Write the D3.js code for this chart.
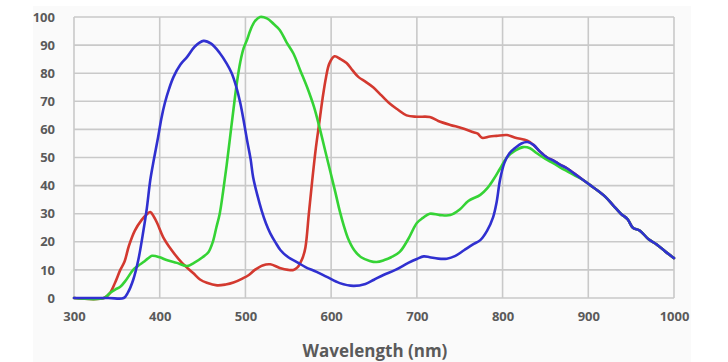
<!DOCTYPE html>
<html>
<head>
<meta charset="utf-8">
<script src="https://cdn.jsdelivr.net/npm/d3@7"></script>
<style>
  html, body { margin: 0; padding: 0; background: #ffffff; }
  svg { display: block; }
</style>
</head>
<body>
<svg id="chart" width="728" height="362"></svg>
<script>
// ---- Data ----
const xTicks = [300, 400, 500, 600, 700, 800, 900, 1000];
const yTicks = [0, 10, 20, 30, 40, 50, 60, 70, 80, 90, 100];
const xTitle = "Wavelength (nm)";

const redNm  = [300,335,342,348,354,359,364,371,379,385,389,393,397,404,414,426,439,447,455,467,477,486,497,504,511,520,529,540,550,556,561,564,567,570,574,578,582,586,590,594,598,604,611,618,625,632,640,649,659,669,678,688,700,715,725,739,752,766,771,776,785,793,805,815,829,836,844,852,859,867,876,885,894,903,912,920,929,938,946,952,960,970,980,990,1000];
const redVal = [0,0,1.8,5.5,10,13,18.5,24,27.8,29.8,30.6,29,26.7,21.7,17,12.5,8.9,6.6,5.4,4.5,4.8,5.5,7,8.2,10,11.6,12,10.7,10,10,11,12.5,14.5,18,30,42,53,62,71,78.5,83.5,86,85,83.6,81,78.6,77,75,72,69,67,65,64.5,64.4,63,61.6,60.5,59,58.5,57,57.5,57.7,58,57,56,54.5,52,50,49,47.5,46,44,42,40,38,36,33,30,28,25,24,21,19,16.5,14.2];

const greenNm  = [300,335,342,348,354,361,369,375,381,386,391,400,408,420,432,440,450,457,462,466,470,474,478,482,486,490,494,498,502,506,511,517,525,533,540,548,556,564,572,580,587,593,599,605,610,615,620,627,635,645,653,662,670,680,690,700,707,715,727,739,750,760,774,782,789,797,805,815,824,832,840,850,859,867,876,885,894,903,912,920,929,938,946,952,960,970,980,990,1000];
const greenVal = [0,0,1.8,3,4,6.5,10,11.5,12.8,14,15,14.5,13.5,12.5,11.4,12.5,14.5,16.4,20,25,30,38,47,57,67,76.5,84,89,92,95.5,98.5,100,99.5,97.5,95.4,91,87,81,75,68,60,52.5,45,37.5,31,25.5,21,17,14.5,13.2,12.8,13.5,14.5,16.4,21,26.7,28.5,30,29.5,29.5,31.5,34.5,36.7,39,42,46,50,52.5,53.7,53.3,51.5,49.5,48,46.5,45,43.5,42,40,38,36,33,30,28,25,24,21,19,16.5,14.2];

const blueNm  = [300,340,358,363,369,375,381,385,389,393,398,402,406,411,416,424,432,441,451,460,470,478,484,489,494,498,502,506,509,514,519,524,529,535,541,550,560,570,583,595,610,626,640,650,661,675,690,700,708,715,725,735,745,755,765,774,782,789,793,797,802,808,815,822,829,836,844,852,859,867,876,885,894,903,912,920,929,938,946,952,960,970,980,990,1000];
const blueVal = [0,0,0,2,6.4,13.5,24,32,42,49,57,64,69.4,74.5,78.6,83,85.8,89.5,91.5,90.5,87.2,83.5,80,75.5,69.4,63,56,49.5,43,36.5,31,26.5,23,19.8,17,14.5,12.8,11,9.3,7.5,5.3,4.3,5,6.5,8.2,10,12.5,13.9,14.8,14.5,14,14,15,17,19,20.6,24,28.8,34,42,48,51.5,53.5,55,55.5,54.5,52,50,49,47.5,46,44,42,40,38,36,33,30,28,25,24,21,19,16.5,14.2];

const series = [
  { name: "R", nm: redNm,   val: redVal,   color: "#d3392f" },
  { name: "G", nm: greenNm, val: greenVal, color: "#35d335" },
  { name: "B", nm: blueNm,  val: blueVal,  color: "#3030d0" }
];

// ---- Layout ----
const svg = d3.select("#chart");

svg.append("rect").attr("x", 33).attr("y", 6).attr("width", 658).attr("height", 356).attr("fill", "#fafafa");

const x = d3.scaleLinear().domain([300, 1000]).range([74, 674]);
const y = d3.scaleLinear().domain([0, 100]).range([298, 17]);

const grid = svg.append("g");
grid.selectAll("line.h").data(yTicks).enter().append("line")
  .attr("x1", x(300)).attr("x2", x(1000))
  .attr("y1", d => y(d)).attr("y2", d => y(d))
  .attr("stroke", "#c9c9c9").attr("stroke-width", 1.6);
grid.selectAll("line.v").data(xTicks).enter().append("line")
  .attr("x1", d => x(d)).attr("x2", d => x(d))
  .attr("y1", y(0)).attr("y2", y(100))
  .attr("stroke", "#c9c9c9").attr("stroke-width", 1.6);

const font = "'Open Sans', 'DejaVu Sans', sans-serif";
const yAxis = d3.axisLeft(y).tickValues(yTicks).tickFormat(d3.format("d")).tickSize(0).tickPadding(19);
const gy = svg.append("g").attr("transform", `translate(${x(300)},0)`).call(yAxis);
gy.select(".domain").remove();
gy.selectAll("text").attr("font-family", font)
  .attr("font-size", 13).attr("font-weight", "bold").attr("fill", "#5a5a5a");

const xAxis = d3.axisBottom(x).tickValues(xTicks).tickFormat(d3.format("d")).tickSize(0).tickPadding(14);
const gx = svg.append("g").attr("transform", `translate(0,${y(0)})`).call(xAxis);
gx.select(".domain").remove();
gx.selectAll("text").attr("font-family", font)
  .attr("font-size", 13).attr("font-weight", "bold").attr("fill", "#5a5a5a");

svg.append("text").attr("x", 375).attr("y", 357)
  .attr("text-anchor", "middle")
  .attr("font-family", font)
  .attr("font-size", 17).attr("font-weight", "bold").attr("fill", "#5a5a5a")
  .text(xTitle);

const line = d3.line().x(d => x(d[0])).y(d => y(d[1])).curve(d3.curveCatmullRom.alpha(0.5));
series.forEach(s => {
  const pts = s.nm.map((n, i) => [n, s.val[i]]);
  svg.append("path").datum(pts).attr("d", line)
    .attr("fill", "none").attr("stroke", s.color).attr("stroke-width", 2.6)
    .attr("stroke-linejoin", "round").attr("stroke-linecap", "round");
});
</script>
</body>
</html>
